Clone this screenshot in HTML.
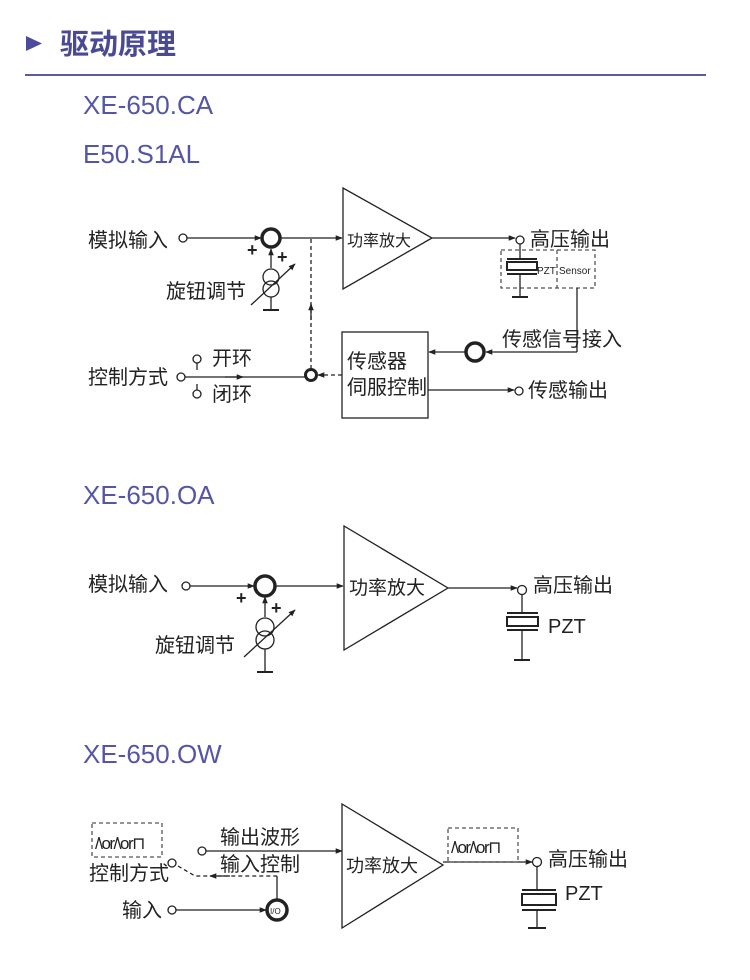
<!DOCTYPE html>
<html><head><meta charset="utf-8"><style>
html,body{margin:0;padding:0;background:#fff;}
svg{display:block;}
text{font-family:"Liberation Sans","Noto Sans CJK SC",sans-serif;}
</style></head><body>
<svg width="750" height="980" viewBox="0 0 750 980" xmlns="http://www.w3.org/2000/svg">
<defs>
<marker id="a" viewBox="0 0 10 10" refX="9" refY="5" markerWidth="7" markerHeight="7" orient="auto-start-reverse" markerUnits="userSpaceOnUse"><path d="M0,1 L10,5 L0,9 z" fill="#222"/></marker>
</defs>
<!-- header -->
<path d="M26,36 L42,43.5 L26,51 z" fill="#4c4c9a"/>
<text x="60" y="54" font-size="29" font-weight="bold" fill="#4a4a94">驱动原理</text>
<line x1="25" y1="75" x2="706" y2="75" stroke="#5a5a9c" stroke-width="2"/>
<g fill="#5555a6" font-size="26">
<text x="83" y="114">XE-650.CA</text>
<text x="83" y="163">E50.S1AL</text>
<text x="83" y="504">XE-650.OA</text>
<text x="83" y="763">XE-650.OW</text>
</g>

<g stroke="#222" fill="none" stroke-width="1.3">
<!-- Diagram 1 -->
<circle cx="183" cy="238" r="4"/>
<line x1="187" y1="238" x2="261" y2="238" marker-end="url(#a)"/>
<circle cx="271" cy="238" r="9" stroke-width="3.5"/>
<line x1="280" y1="238" x2="342" y2="238" marker-end="url(#a)"/>
<path d="M343,188 L343,289 L432,238 z"/>
<line x1="432" y1="238" x2="515" y2="238" marker-end="url(#a)"/>
<circle cx="520" cy="240" r="4"/>
<rect x="501" y="250" width="94" height="38" stroke-dasharray="4,3" stroke="#555"/>
<line x1="557" y1="250" x2="557" y2="288" stroke-dasharray="4,3" stroke="#555"/>
<line x1="520" y1="244" x2="520" y2="258"/>
<line x1="507" y1="259" x2="537" y2="259" stroke-width="2"/>
<rect x="507" y="262" width="30" height="8" stroke-width="2"/>
<line x1="507" y1="274" x2="537" y2="274" stroke-width="2"/>
<line x1="520" y1="274" x2="520" y2="297"/>
<line x1="512" y1="297" x2="528" y2="297" stroke-width="2"/>
<line x1="577" y1="288" x2="577" y2="352"/>
<line x1="577" y1="352" x2="486" y2="352" marker-end="url(#a)"/>
<circle cx="475" cy="352" r="9" stroke-width="3.5"/>
<line x1="466" y1="352" x2="429" y2="352" marker-end="url(#a)"/>
<rect x="342" y="332" width="86" height="86"/>
<line x1="342" y1="375" x2="318" y2="375" stroke-dasharray="4,3" marker-end="url(#a)"/>
<circle cx="311" cy="375" r="5.5" stroke-width="3"/>
<line x1="311" y1="369" x2="311" y2="238" stroke-dasharray="4,3"/>
<line x1="311" y1="320" x2="311" y2="304" marker-end="url(#a)"/>
<circle cx="181" cy="377" r="4"/>
<line x1="185" y1="377" x2="305" y2="377"/>
<line x1="225" y1="377" x2="243" y2="377" marker-end="url(#a)"/>
<circle cx="197" cy="359" r="4"/>
<line x1="197" y1="363" x2="197" y2="370"/>
<circle cx="197" cy="394" r="4"/>
<line x1="197" y1="384" x2="197" y2="390"/>
<line x1="428" y1="390" x2="514" y2="390" marker-end="url(#a)"/>
<circle cx="519" cy="391" r="4"/>
<!-- knob 1 -->
<line x1="271" y1="268" x2="271" y2="249" marker-end="url(#a)"/>
<circle cx="271" cy="277" r="8"/>
<circle cx="271" cy="289" r="8"/>
<line x1="251" y1="305" x2="295" y2="264" marker-end="url(#a)"/>
<line x1="271" y1="297" x2="271" y2="310"/>
<line x1="263" y1="310" x2="279" y2="310" stroke-width="2"/>

<!-- Diagram 2 -->
<circle cx="186" cy="586" r="4"/>
<line x1="190" y1="586" x2="254" y2="586" marker-end="url(#a)"/>
<circle cx="265" cy="586" r="10" stroke-width="3.5"/>
<line x1="275" y1="586" x2="343" y2="586" marker-end="url(#a)"/>
<path d="M344,526 L344,650 L448,588 z"/>
<line x1="448" y1="588" x2="517" y2="588" marker-end="url(#a)"/>
<circle cx="522" cy="590" r="4.5"/>
<line x1="522" y1="595" x2="522" y2="613"/>
<line x1="507" y1="613" x2="538" y2="613" stroke-width="2"/>
<rect x="507" y="617" width="31" height="9" stroke-width="2"/>
<line x1="507" y1="630" x2="538" y2="630" stroke-width="2"/>
<line x1="522" y1="630" x2="522" y2="660"/>
<line x1="514" y1="660" x2="530" y2="660" stroke-width="2"/>
<line x1="265" y1="617" x2="265" y2="597" marker-end="url(#a)"/>
<circle cx="265" cy="627" r="9"/>
<circle cx="265" cy="640" r="9"/>
<line x1="244" y1="657" x2="295" y2="610" marker-end="url(#a)"/>
<line x1="265" y1="649" x2="265" y2="672"/>
<line x1="257" y1="672" x2="273" y2="672" stroke-width="2"/>

<!-- Diagram 3 -->
<rect x="92" y="823" width="70" height="34" stroke-dasharray="4,3" stroke="#555"/>
<circle cx="202" cy="851" r="4"/>
<line x1="206" y1="851" x2="342" y2="851" marker-end="url(#a)"/>
<circle cx="172" cy="863" r="4"/>
<path d="M178,866 L195,876 L277,876" stroke-dasharray="4,3"/>
<line x1="230" y1="876" x2="210" y2="876" marker-end="url(#a)"/>
<line x1="277" y1="876" x2="277" y2="900"/>
<circle cx="277" cy="910" r="10" stroke-width="3.5"/>
<circle cx="172" cy="910" r="4"/>
<line x1="176" y1="910" x2="266" y2="910" marker-end="url(#a)"/>
<path d="M342,804 L342,928 L443,865 z"/>
<line x1="443" y1="862" x2="532" y2="862" marker-end="url(#a)"/>
<rect x="448" y="828" width="70" height="34" stroke-dasharray="4,3" stroke="#555"/>
<circle cx="537" cy="862" r="4.5"/>
<line x1="537" y1="867" x2="537" y2="890"/>
<line x1="522" y1="890" x2="556" y2="890" stroke-width="2"/>
<rect x="522" y="894" width="34" height="11" stroke-width="2"/>
<line x1="522" y1="910" x2="556" y2="910" stroke-width="2"/>
<line x1="537" y1="910" x2="537" y2="928"/>
<line x1="528" y1="928" x2="546" y2="928" stroke-width="2"/>
</g>

<g fill="#222" font-size="20">
<text x="88" y="247">模拟输入</text>
<text x="166" y="298">旋钮调节</text>
<text x="247" y="256" font-size="18" font-weight="bold">+</text>
<text x="277" y="263" font-size="18" font-weight="bold">+</text>
<text x="347" y="246" font-size="16">功率放大</text>
<text x="530" y="246">高压输出</text>
<text x="537" y="274" font-size="10">PZT</text>
<text x="559" y="274" font-size="10">Sensor</text>
<text x="502" y="346">传感信号接入</text>
<text x="347" y="368">传感器</text>
<text x="347" y="394">伺服控制</text>
<text x="88" y="384">控制方式</text>
<text x="212" y="365">开环</text>
<text x="212" y="401">闭环</text>
<text x="528" y="397">传感输出</text>

<text x="88" y="591">模拟输入</text>
<text x="155" y="652">旋钮调节</text>
<text x="236" y="604" font-size="18" font-weight="bold">+</text>
<text x="271" y="614" font-size="18" font-weight="bold">+</text>
<text x="349" y="594" font-size="19">功率放大</text>
<text x="533" y="592">高压输出</text>
<text x="548" y="633">PZT</text>

<text x="95" y="849" font-size="17" letter-spacing="-1.5">/\or/\or⊓</text>
<text x="451" y="853" font-size="17" letter-spacing="-1.5">/\or/\or⊓</text>
<text x="220" y="844">输出波形</text>
<text x="220" y="871">输入控制</text>
<text x="89" y="880">控制方式</text>
<text x="122" y="917">输入</text>
<text x="270" y="914" font-size="8">I/O</text>
<text x="346" y="872" font-size="18">功率放大</text>
<text x="548" y="866">高压输出</text>
<text x="565" y="900">PZT</text>
</g>
</svg>
</body></html>
